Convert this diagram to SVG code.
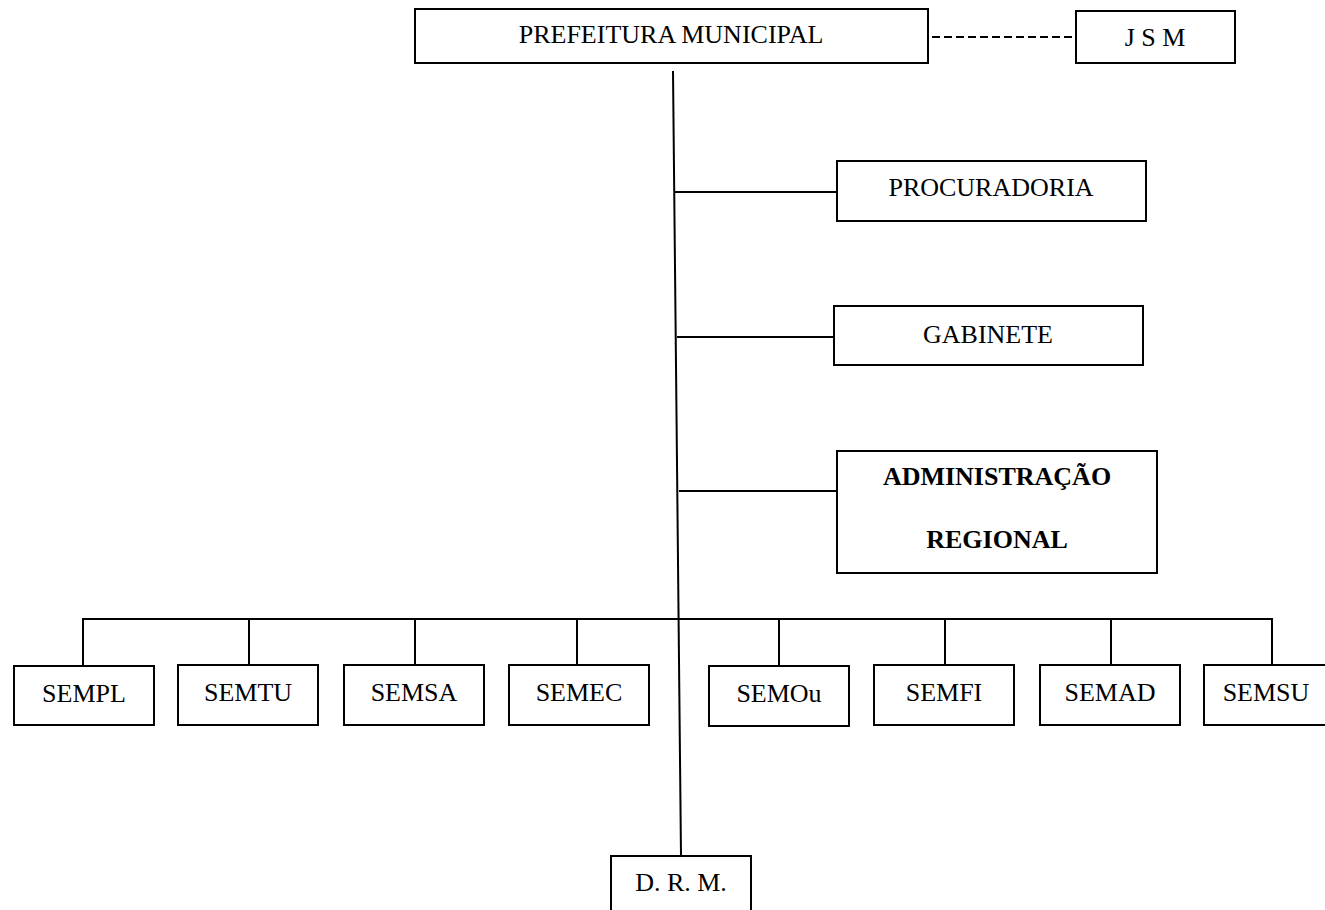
<svg xmlns="http://www.w3.org/2000/svg" width="1325" height="910" viewBox="0 0 1325 910">
<style>
.box{fill:#fff;stroke:#000;stroke-width:2}
.t{font-family:"Liberation Serif","Times New Roman",serif;font-size:26px;fill:#000;text-anchor:middle}
.b{font-weight:bold}
.ln{stroke:#000;stroke-width:2;fill:none}
.dash{stroke:#000;stroke-width:2;stroke-dasharray:8 4;fill:none}
</style>
<rect width="1325" height="910" fill="#fff"/>
<g id="connectors">
<line class="dash" x1="932" y1="37" x2="1074" y2="37"/>
<line class="ln" x1="673" y1="71" x2="681" y2="856"/>
<line class="ln" x1="674" y1="192" x2="837" y2="192"/>
<line class="ln" x1="677" y1="337" x2="834" y2="337"/>
<line class="ln" x1="679" y1="491" x2="837" y2="491"/>
<line class="ln" x1="82" y1="619" x2="1273" y2="619"/>
<line class="ln" x1="83" y1="619" x2="83" y2="666"/>
<line class="ln" x1="249" y1="619" x2="249" y2="665"/>
<line class="ln" x1="415" y1="619" x2="415" y2="665"/>
<line class="ln" x1="577" y1="619" x2="577" y2="665"/>
<line class="ln" x1="779" y1="619" x2="779" y2="666"/>
<line class="ln" x1="945" y1="619" x2="945" y2="665"/>
<line class="ln" x1="1111" y1="619" x2="1111" y2="665"/>
<line class="ln" x1="1272" y1="619" x2="1272" y2="665"/>
</g>
<g id="prefeitura"><rect class="box" x="415" y="9" width="513" height="54"/><text class="t" x="671" y="43">PREFEITURA MUNICIPAL</text></g>
<g id="jsm"><rect class="box" x="1076" y="11" width="159" height="52"/><text class="t" x="1155" y="46">J S M</text></g>
<g id="procuradoria"><rect class="box" x="837" y="161" width="309" height="60"/><text class="t" x="991" y="196">PROCURADORIA</text></g>
<g id="gabinete"><rect class="box" x="834" y="306" width="309" height="59"/><text class="t" x="988" y="343">GABINETE</text></g>
<g id="administracao"><rect class="box" x="837" y="451" width="320" height="122"/><text class="t b" x="997" y="485">ADMINISTRAÇÃO</text><text class="t b" x="997" y="548">REGIONAL</text></g>
<g id="sempl"><rect class="box" x="14" y="666" width="140" height="59"/><text class="t" x="84" y="702">SEMPL</text></g>
<g id="semtu"><rect class="box" x="178" y="665" width="140" height="60"/><text class="t" x="248" y="701">SEMTU</text></g>
<g id="semsa"><rect class="box" x="344" y="665" width="140" height="60"/><text class="t" x="414" y="701">SEMSA</text></g>
<g id="semec"><rect class="box" x="509" y="665" width="140" height="60"/><text class="t" x="579" y="701">SEMEC</text></g>
<g id="semou"><rect class="box" x="709" y="666" width="140" height="60"/><text class="t" x="779" y="702">SEMOu</text></g>
<g id="semfi"><rect class="box" x="874" y="665" width="140" height="60"/><text class="t" x="944" y="701">SEMFI</text></g>
<g id="semad"><rect class="box" x="1040" y="665" width="140" height="60"/><text class="t" x="1110" y="701">SEMAD</text></g>
<g id="semsu"><rect class="box" x="1204" y="665" width="140" height="60"/><text class="t" x="1266" y="701">SEMSU</text></g>
<g id="drm"><rect class="box" x="611" y="856" width="140" height="70"/><text class="t" x="681" y="891">D. R. M.</text></g>
</svg>
